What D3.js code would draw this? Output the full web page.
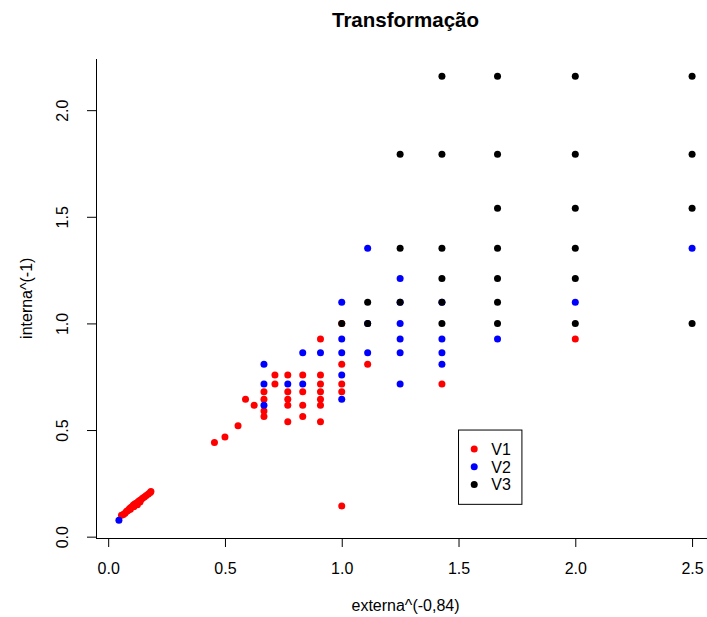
<!DOCTYPE html>
<html>
<head>
<meta charset="utf-8">
<script src="https://cdn.jsdelivr.net/npm/d3@7"></script>
<style>
  body { margin: 0; background: #fff; }
  svg { display: block; }
  text { font-family: "Liberation Sans", Arial, sans-serif; }
</style>
</head>
<body>
<svg id="chart" width="707" height="617"></svg>
<script>
// ---- data: [externa^(-0,84), interna^(-1)] pairs per group ----
const seriesNames = ["V1", "V2", "V3"];
const seriesColors = ["#ff0000", "#0000ff", "#000000"];

const v1 = [
  [0.057, 0.100], [0.065, 0.104], [0.072, 0.110], [0.078, 0.118], [0.083, 0.122],
  [0.088, 0.126], [0.092, 0.132], [0.095, 0.128], [0.097, 0.137], [0.103, 0.142],
  [0.108, 0.148], [0.110, 0.140], [0.114, 0.153], [0.120, 0.157], [0.125, 0.150],
  [0.127, 0.163], [0.133, 0.168], [0.136, 0.162], [0.140, 0.173], [0.147, 0.180],
  [0.155, 0.186], [0.163, 0.193], [0.172, 0.200], [0.180, 0.207], [0.183, 0.212],
  [0.455, 0.441], [0.500, 0.467], [0.556, 0.520], [0.588, 0.644], [0.625, 0.616],
  [0.667, 0.680], [0.667, 0.644], [0.667, 0.589], [0.667, 0.563],
  [0.714, 0.758], [0.714, 0.716],
  [0.769, 0.758], [0.769, 0.680], [0.769, 0.644], [0.769, 0.616], [0.769, 0.539],
  [0.833, 0.758], [0.833, 0.680], [0.833, 0.616], [0.833, 0.563],
  [0.909, 0.927], [0.909, 0.758], [0.909, 0.716], [0.909, 0.680], [0.909, 0.644],
  [0.909, 0.616], [0.909, 0.539],
  [1.000, 1.000], [1.000, 0.808], [1.000, 0.716], [1.000, 0.680], [1.000, 0.144],
  [1.111, 0.808], [1.429, 0.716], [2.000, 0.927]
];

const v2 = [
  [0.046, 0.077],
  [0.667, 0.808], [0.667, 0.716], [0.667, 0.616],
  [0.769, 0.716],
  [0.833, 0.863], [0.833, 0.716],
  [0.909, 0.863],
  [1.000, 1.099], [1.000, 0.927], [1.000, 0.863], [1.000, 0.758], [1.000, 0.644],
  [1.111, 1.352], [1.111, 1.000], [1.111, 0.863],
  [1.250, 1.211], [1.250, 1.099], [1.250, 1.000], [1.250, 0.927], [1.250, 0.863], [1.250, 0.716],
  [1.429, 1.099], [1.429, 0.927], [1.429, 0.863], [1.429, 0.808],
  [1.667, 0.927],
  [2.000, 1.099],
  [2.500, 1.352]
];

const v3 = [
  [1.000, 1.000],
  [1.111, 1.099], [1.111, 1.000],
  [1.250, 1.793], [1.250, 1.352], [1.250, 1.099],
  [1.429, 2.159], [1.429, 1.793], [1.429, 1.352], [1.429, 1.211], [1.429, 1.099], [1.429, 1.000],
  [1.667, 2.159], [1.667, 1.793], [1.667, 1.540], [1.667, 1.352], [1.667, 1.211], [1.667, 1.099], [1.667, 1.000],
  [2.000, 2.159], [2.000, 1.793], [2.000, 1.540], [2.000, 1.352], [2.000, 1.211], [2.000, 1.000],
  [2.500, 2.159], [2.500, 1.793], [2.500, 1.540], [2.500, 1.000]
];

const xTicks = [0, 0.5, 1, 1.5, 2, 2.5];
const yTicks = [0, 0.5, 1, 1.5, 2];
const titleText = "Transformação";
const xLabel = "externa^(-0,84)";
const yLabel = "interna^(-1)";
const legendAt = [1.5, 0.5];   // top-left corner of the legend, data units

// ---- layout ----
const plot = { left: 96, right: 715, top: 58.5, bottom: 538 };
const tickLen = 9;
const fontSize = 16;
const pointR = 3.5;

const svg = d3.select("#chart");
const series = [v1, v2, v3];
const all = v1.concat(v2, v3);

// plot ranges extended by 4% on each side
function padded(ext) {
  const d = (ext[1] - ext[0]) * 0.04;
  return [ext[0] - d, ext[1] + d];
}
const x = d3.scaleLinear().domain(padded(d3.extent(all, d => d[0]))).range([plot.left, plot.right]);
const y = d3.scaleLinear().domain(padded(d3.extent(all, d => d[1]))).range([plot.bottom, plot.top]);

// ---- axes ----
const gx = svg.append("g")
  .attr("transform", `translate(0,${plot.bottom})`)
  .call(d3.axisBottom(x).tickValues(xTicks).tickFormat(d3.format(".1f"))
        .tickSize(tickLen).tickPadding(15.5));
gx.select(".domain").remove();
gx.attr("font-family", null).attr("font-size", null);
gx.selectAll(".tick line").attr("stroke", "#000").attr("stroke-width", 1);
gx.selectAll(".tick text").attr("font-size", fontSize).attr("fill", "#000");

const gy = svg.append("g")
  .attr("transform", `translate(${plot.left},0)`)
  .call(d3.axisLeft(y).tickValues(yTicks).tickFormat(d3.format(".1f")).tickSize(tickLen));
gy.select(".domain").remove();
gy.attr("font-family", null).attr("font-size", null);
gy.selectAll(".tick line").attr("stroke", "#000").attr("stroke-width", 1);
gy.selectAll(".tick text")
  .attr("font-size", fontSize).attr("fill", "#000")
  .attr("x", 0).attr("dy", 0)
  .attr("text-anchor", "middle")
  .attr("transform", "translate(-28,0) rotate(-90)");

// L-shaped frame: left and bottom edges of the plot region
svg.append("path")
  .attr("d", `M${plot.left},${plot.top}V${plot.bottom}H${plot.right}`)
  .attr("fill", "none").attr("stroke", "#000").attr("stroke-width", 1)
  .attr("shape-rendering", "crispEdges");

// ---- points (V1 first, V3 on top) ----
series.forEach((pts, i) => {
  svg.append("g").selectAll("circle").data(pts).enter().append("circle")
    .attr("cx", d => x(d[0]))
    .attr("cy", d => y(d[1]))
    .attr("r", pointR)
    .attr("fill", seriesColors[i]);
});

// ---- titles ----
svg.append("text")
  .attr("x", (plot.left + plot.right) / 2).attr("y", 27)
  .attr("text-anchor", "middle").attr("font-size", 20.5).attr("font-weight", "bold")
  .text(titleText);

svg.append("text")
  .attr("x", (plot.left + plot.right) / 2).attr("y", 611)
  .attr("text-anchor", "middle").attr("font-size", fontSize)
  .text(xLabel);

svg.append("text")
  .attr("transform", `translate(32,${(plot.top + plot.bottom) / 2}) rotate(-90)`)
  .attr("text-anchor", "middle").attr("font-size", fontSize)
  .text(yLabel);

// ---- legend ----
const lg = svg.append("g").attr("transform", `translate(${x(legendAt[0])},${y(legendAt[1])})`);
lg.append("rect")
  .attr("width", 63.4).attr("height", 74.3)
  .attr("fill", "#fff").attr("stroke", "#000").attr("stroke-width", 1);
seriesNames.forEach((name, i) => {
  const cy = 19 + i * 17.7;
  lg.append("circle").attr("cx", 15.7).attr("cy", cy).attr("r", pointR).attr("fill", seriesColors[i]);
  lg.append("text").attr("x", 32.7).attr("y", cy + 6).attr("font-size", fontSize).text(name);
});
</script>
</body>
</html>
